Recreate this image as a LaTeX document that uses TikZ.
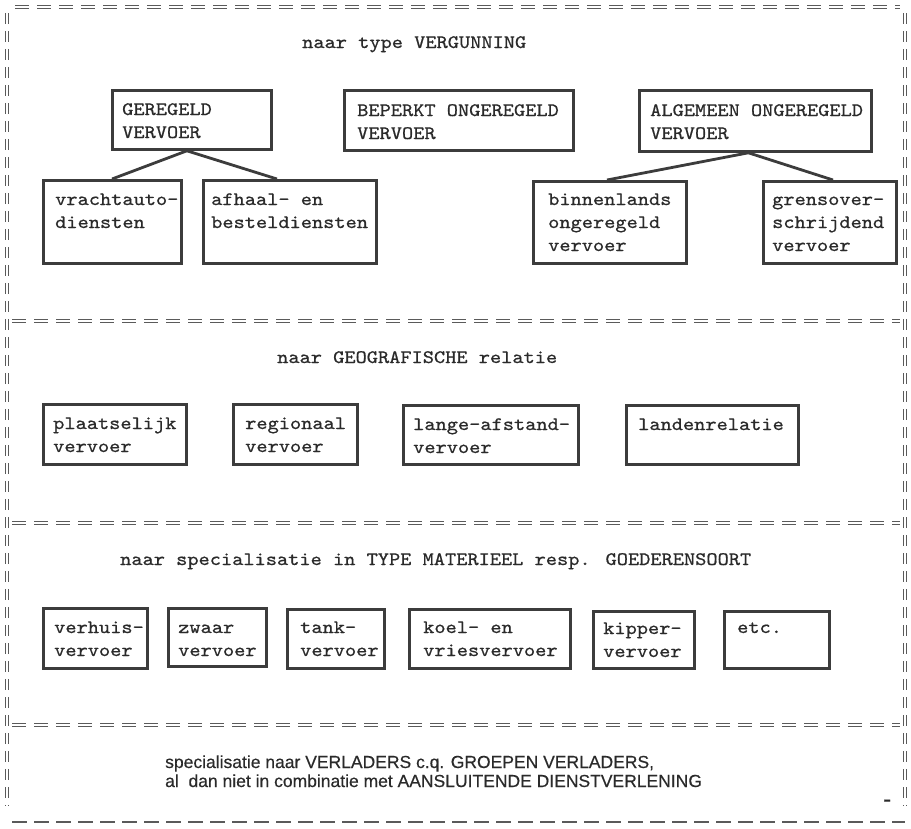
\documentclass[tikz,border=0pt]{standalone}
\usepackage{fontspec}
\newfontfamily\tw{lmmono10-regular.otf}[FakeStretch=1.123,FakeBold=0.7]
\newfontfamily\sw{Liberation Sans}[FakeBold=0.4]
\usetikzlibrary{calc}
\definecolor{boxc}{HTML}{3C3C3C}
\definecolor{txc}{HTML}{2A2A2A}
\definecolor{frc}{HTML}{5A5A5A}
\newcommand{\tl}[1]{\begin{tabular}[t]{@{}l@{}}#1\end{tabular}}
\begin{document}
\begin{tikzpicture}[x=1pt,y=-1pt,
  box/.style={draw=boxc, line width=2.8pt, rectangle, inner sep=0pt, anchor=north west},
  tx/.style={anchor=base west, inner sep=0pt, text=txc, font=\tw\fontsize{19}{23}\selectfont},
  conn/.style={draw=boxc, line width=2.8pt},
  hframe/.style={draw=frc, line width=0.9pt, double distance=2pt, dash pattern=on 14pt off 8pt},
  vframe/.style={draw=frc, line width=0.9pt, double distance=2pt, dash pattern=on 11pt off 7pt},
  bframe/.style={draw=frc, line width=1.6pt, dash pattern=on 15pt off 7pt}]
\useasboundingbox (0,0) rectangle (911,828);

% frame
\draw[hframe] (15,7) -- (900,7);
\draw[hframe] (12,321) -- (900,321);
\draw[hframe] (12,523) -- (900,523);
\draw[hframe] (12,725) -- (900,725);
\draw[vframe] (7,13) -- (7,806);
\draw[vframe] (905,13) -- (905,806);
\draw[bframe] (12,822) -- (905,822);

% section 1
\node[tx] (t1) at (302,48) {naar type VERGUNNING};
\node[box, minimum width=159pt, minimum height=59pt] (ger) at (111,89) {};
\node[box, minimum width=229pt, minimum height=60pt] (bep) at (343,89) {};
\node[box, minimum width=232pt, minimum height=61pt] (alg) at (638,89) {};
\node[box, minimum width=138pt, minimum height=83pt] (vra) at (42,179) {};
\node[box, minimum width=173pt, minimum height=83pt] (afh) at (202,179) {};
\node[box, minimum width=153pt, minimum height=82pt] (bin) at (532,180) {};
\node[box, minimum width=133pt, minimum height=82pt] (gre) at (762,180) {};
\node[tx] (tger) at (122,115) {\tl{GEREGELD\\VERVOER}};
\node[tx] (tbep) at (357,116) {\tl{BEPERKT ONGEREGELD\\VERVOER}};
\node[tx] (talg) at (650,116) {\tl{ALGEMEEN ONGEREGELD\\VERVOER}};
\node[tx] (tvra) at (55,205) {\tl{vrachtauto-\\diensten}};
\node[tx] (tafh) at (211,205) {\tl{afhaal- en\\besteldiensten}};
\node[tx] (tbin) at (548,205) {\tl{binnenlands\\ongeregeld\\vervoer}};
\node[tx] (tgre) at (772,205) {\tl{grensover-\\schrijdend\\vervoer}};
\draw[conn] ([xshift=-5pt]ger.south) -- ([xshift=70pt]vra.north west);
\draw[conn] ([xshift=-5pt]ger.south) -- ([xshift=75pt]afh.north west);
\draw[conn] ([xshift=-7pt]alg.south) -- ([xshift=75pt]bin.north west);
\draw[conn] ([xshift=-7pt]alg.south) -- ([xshift=71pt]gre.north west);

% section 2
\node[tx] (t2) at (277,363) {naar GEOGRAFISCHE relatie};
\node[box, minimum width=143pt, minimum height=60pt] (pla) at (42,403) {};
\node[box, minimum width=124pt, minimum height=60pt] (reg) at (232,403) {};
\node[box, minimum width=175pt, minimum height=59pt] (lan) at (402,404) {};
\node[box, minimum width=172pt, minimum height=59pt] (ldr) at (625,404) {};
\node[tx] (tpla) at (53,429) {\tl{plaatselijk\\vervoer}};
\node[tx] (treg) at (245,429) {\tl{regionaal\\vervoer}};
\node[tx] (tlan) at (413,430) {\tl{lange-afstand-\\vervoer}};
\node[tx] (tldr) at (638,430) {landenrelatie};

% section 3
\node[tx] (t3) at (120,565) {naar specialisatie in TYPE MATERIEEL resp. GOEDERENSOORT};
\node[box, minimum width=104pt, minimum height=60pt] (ver) at (42,607) {};
\node[box, minimum width=98pt, minimum height=58pt] (zwa) at (167,607) {};
\node[box, minimum width=97pt, minimum height=59pt] (tan) at (286,608) {};
\node[box, minimum width=161pt, minimum height=59pt] (koe) at (408,608) {};
\node[box, minimum width=101pt, minimum height=57pt] (kip) at (592,610) {};
\node[box, minimum width=105pt, minimum height=57pt] (etc) at (723,610) {};
\node[tx] (tver) at (54,633) {\tl{verhuis-\\vervoer}};
\node[tx] (tzwa) at (178,633) {\tl{zwaar\\vervoer}};
\node[tx] (ttan) at (300,633) {\tl{tank-\\vervoer}};
\node[tx] (tkoe) at (423,633) {\tl{koel- en\\vriesvervoer}};
\node[tx] (tkip) at (603,634) {\tl{kipper-\\vervoer}};
\node[tx] (tetc) at (737,633) {etc.};

% section 4
\node[anchor=base west, inner sep=0pt, text=txc, font=\sw\fontsize{17.5}{19}\selectfont] (t4) at (165,768)
  {\tl{specialisatie naar VERLADERS c.q. GROEPEN VERLADERS,\\al\ \ dan niet in combinatie met AANSLUITENDE DIENSTVERLENING}};
\node[anchor=base west, inner sep=0pt, text=txc, font=\sw\fontsize{24}{26}\selectfont] (dash) at (883,807) {-};
\end{tikzpicture}
\end{document}
